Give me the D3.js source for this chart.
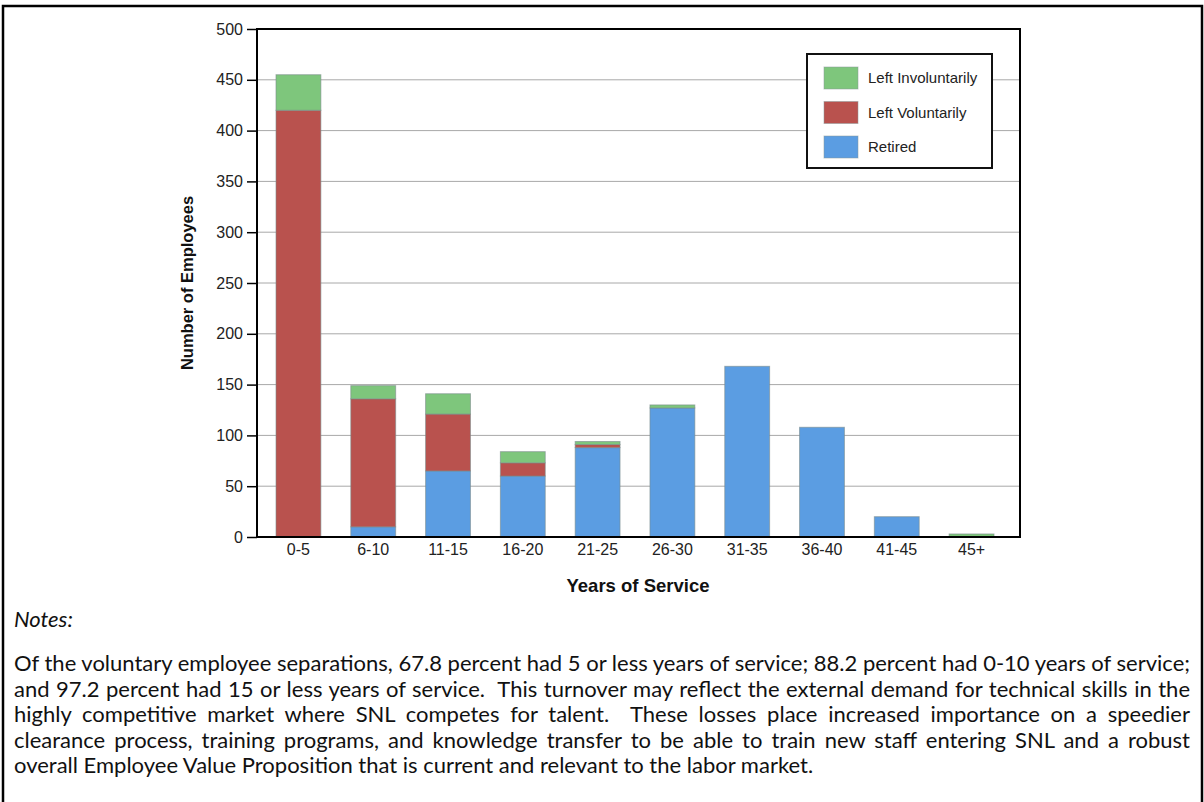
<!doctype html>
<html lang="en">
<head>
    <meta charset="utf-8" />
    <title>Separations by years of service</title>
    <style>
        body { margin: 0; background: #fff; }
        svg { display: block; }
    </style>
</head>
<body>
    <svg id="chart"></svg>

    <script src="https://cdn.jsdelivr.net/npm/d3@7"></script>
    <script>
        // values
        const categories = ["0-5", "6-10", "11-15", "16-20", "21-25", "26-30", "31-35", "36-40", "41-45", "45+"];
        const retired = [0, 10, 65, 60, 88, 127, 168, 108, 20, 0];
        const leftVoluntarily = [420, 126, 56, 13, 3, 0, 0, 0, 0, 0];
        const leftInvoluntarily = [35, 13, 20, 11, 3, 3, 0, 0, 0, 3];
        const yTicks = [0, 50, 100, 150, 200, 250, 300, 350, 400, 450, 500];
        const seriesNames = ["Left Involuntarily", "Left Voluntarily", "Retired"];

        const noteLines = [
            "Of the voluntary employee separations, 67.8 percent had 5 or less years of service; 88.2 percent had 0-10 years of service;",
            "and 97.2 percent had 15 or less years of service.  This turnover may reflect the external demand for technical skills in the",
            "highly competitive market where SNL competes for talent.  These losses place increased importance on a speedier",
            "clearance process, training programs, and knowledge transfer to be able to train new staff entering SNL and a robust",
            "overall Employee Value Proposition that is current and relevant to the labor market."
        ];

        const width = 1204, height = 802;
        const plot = {left: 257, right: 1020, top: 29, bottom: 537};
        const chartFont = "'Liberation Sans', Arial, sans-serif";
        const colors = {
            "Retired": "#5b9de2",
            "Left Voluntarily": "#b9524e",
            "Left Involuntarily": "#7ec67c"
        };

        const svg = d3.select("#chart")
            .attr("width", width)
            .attr("height", height);

        // outer frame
        svg.append("path")
            .attr("d", `M3,${height}V6H1202V${height}`)
            .attr("fill", "none")
            .attr("stroke", "#000")
            .attr("stroke-width", 2.5);

        const rows = categories.map((c, i) => ({
            cat: c,
            "Retired": retired[i],
            "Left Voluntarily": leftVoluntarily[i],
            "Left Involuntarily": leftInvoluntarily[i]
        }));

        const series = d3.stack()
            .keys(["Retired", "Left Voluntarily", "Left Involuntarily"])(rows);

        const x = d3.scaleBand()
            .domain(categories)
            .range([plot.left, 1013])
            .paddingInner(0.4)
            .paddingOuter(0.254)
            .align(0.5);

        const y = d3.scaleLinear()
            .domain([0, 500])
            .range([plot.bottom, plot.top]);

        // grid
        svg.append("g")
            .selectAll("line")
            .data(yTicks.slice(1, -1))
            .join("line")
            .attr("x1", plot.left)
            .attr("x2", plot.right)
            .attr("y1", d => y(d))
            .attr("y2", d => y(d))
            .attr("stroke", "#a8a8a8")
            .attr("stroke-width", 1);

        // bars
        svg.append("g")
            .selectAll("g")
            .data(series)
            .join("g")
            .attr("fill", d => colors[d.key])
            .selectAll("rect")
            .data(d => d.filter(s => s[1] - s[0] > 0))
            .join("rect")
            .attr("x", d => x(d.data.cat))
            .attr("width", x.bandwidth())
            .attr("y", d => y(d[1]))
            .attr("height", d => y(d[0]) - y(d[1]))
            .attr("stroke", "#7a8a8a")
            .attr("stroke-opacity", 0.6)
            .attr("stroke-width", 1);

        // plot frame
        svg.append("rect")
            .attr("x", plot.left)
            .attr("y", plot.top)
            .attr("width", plot.right - plot.left)
            .attr("height", plot.bottom - plot.top)
            .attr("fill", "none")
            .attr("stroke", "#000")
            .attr("stroke-width", 2);

        // axes
        const yAxis = svg.append("g")
            .attr("transform", `translate(${plot.left},0)`)
            .call(d3.axisLeft(y).tickValues(yTicks).tickSize(10).tickPadding(4))
            .attr("font-family", chartFont)
            .attr("font-size", 16);
        yAxis.select(".domain").remove();
        yAxis.selectAll(".tick line").attr("stroke", "#000").attr("stroke-width", 1.5);
        yAxis.selectAll(".tick text").attr("fill", "#222");

        const xAxis = svg.append("g")
            .attr("transform", `translate(0,${plot.bottom})`)
            .call(d3.axisBottom(x).tickSize(0).tickPadding(7))
            .attr("font-family", chartFont)
            .attr("font-size", 16);
        xAxis.select(".domain").remove();
        xAxis.selectAll(".tick text").attr("fill", "#222");

        // axis titles
        svg.append("text")
            .attr("x", 638)
            .attr("y", 592)
            .attr("text-anchor", "middle")
            .attr("font-family", chartFont)
            .attr("font-weight", "bold")
            .attr("font-size", 18.5)
            .attr("fill", "#111")
            .text("Years of Service");

        svg.append("text")
            .attr("transform", `translate(193,${(plot.top + plot.bottom) / 2}) rotate(-90)`)
            .attr("text-anchor", "middle")
            .attr("font-family", chartFont)
            .attr("font-weight", "bold")
            .attr("font-size", 16.5)
            .attr("fill", "#111")
            .text("Number of Employees");

        // legend
        const legend = svg.append("g");
        legend.append("rect")
            .attr("x", 807).attr("y", 54)
            .attr("width", 185).attr("height", 114)
            .attr("fill", "#fff")
            .attr("stroke", "#111")
            .attr("stroke-width", 2);

        const item = legend.selectAll("g")
            .data(seriesNames)
            .join("g")
            .attr("transform", (d, i) => `translate(824,${67 + i * 34.5})`);
        item.append("rect")
            .attr("width", 34).attr("height", 22)
            .attr("fill", d => colors[d])
            .attr("stroke", "#8a9a9a")
            .attr("stroke-opacity", 0.5);
        item.append("text")
            .attr("x", 44).attr("y", 16)
            .attr("font-family", chartFont)
            .attr("font-size", 15)
            .attr("fill", "#222")
            .text(d => d);

        // notes
        const noteFont = "Lato, 'Open Sans', sans-serif";
        const textLeft = 14, textRight = 1190;

        const notesTitle = svg.append("text")
            .attr("x", textLeft)
            .attr("y", 627)
            .attr("font-family", noteFont)
            .attr("font-style", "italic")
            .attr("font-size", 18)
            .attr("fill", "#111")
            .text("Notes:");

        const lines = svg.append("g")
            .attr("font-family", noteFont)
            .attr("fill", "#111")
            .selectAll("text")
            .data(noteLines)
            .join("text")
            .attr("x", textLeft)
            .attr("y", (d, i) => 671 + i * 25.5)
            .attr("font-size", 18)
            .attr("xml:space", "preserve")
            .style("white-space", "pre")
            .text(d => d);

        // fit font size to the longest line, then justify all but the last
        let maxW = 0;
        lines.each(function() { maxW = Math.max(maxW, this.getComputedTextLength()); });
        const fs = 18 * (textRight - textLeft) / maxW;
        lines.attr("font-size", fs);
        notesTitle.attr("font-size", fs);
        lines.each(function(d, i) {
            if (i === noteLines.length - 1) return;
            const w = this.getComputedTextLength();
            const spaces = (d.match(/ /g) || []).length;
            d3.select(this).attr("word-spacing", (textRight - textLeft - w) / spaces);
        });
    </script>
</body>
</html>
